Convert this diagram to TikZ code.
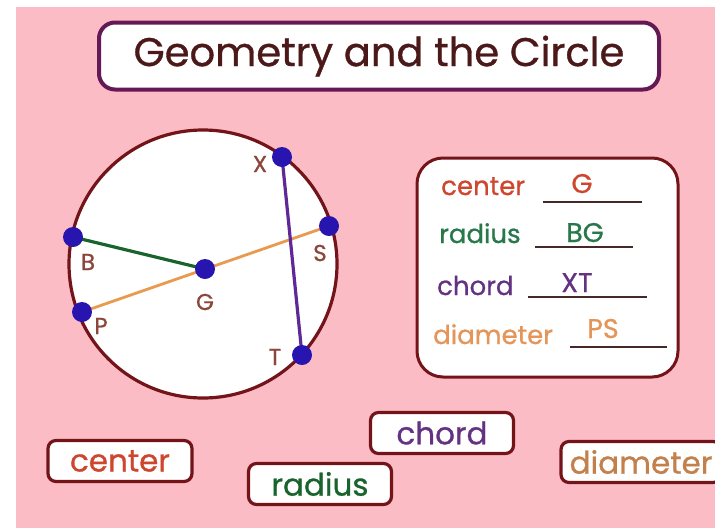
\documentclass[tikz,border=0pt]{standalone}
\usepackage{fontspec}
\setmainfont{Poppins}[FakeBold=0.8]
\definecolor{bgpink}{RGB}{252,188,198}
\definecolor{maroon}{RGB}{115,20,25}
\definecolor{titleline}{RGB}{100,25,85}
\definecolor{titletext}{RGB}{75,25,25}
\definecolor{dotblue}{RGB}{40,20,175}
\definecolor{radgreen}{RGB}{25,100,45}
\definecolor{diaorange}{RGB}{232,155,80}
\definecolor{chordpurple}{RGB}{95,40,150}
\definecolor{ptlabel}{RGB}{140,70,60}
\definecolor{centcol}{RGB}{205,70,45}
\definecolor{radcol}{RGB}{40,120,75}
\definecolor{chordcol}{RGB}{100,50,130}
\definecolor{diacol}{RGB}{228,150,90}
\definecolor{ulcol}{RGB}{70,40,40}
\begin{document}
\begin{tikzpicture}[x=1pt,y=-1pt,
  dot/.style={circle,fill=dotblue,inner sep=0pt,minimum size=20pt},
  ptlab/.style={text=ptlabel,font=\fontsize{23}{23}\selectfont,inner sep=0pt},
  rowlab/.style={anchor=base west,inner sep=0pt,font=\fontsize{26}{26}\selectfont},
  ans/.style={anchor=base,inner sep=0pt,font=\fontsize{27}{27}\selectfont},
  uline/.style={draw=ulcol,line width=1.8pt},
  wordbox/.style={draw=maroon,line width=3.2pt,fill=white,rounded corners=8pt,
    inner sep=0pt,minimum height=41pt,font=\fontsize{31}{31}\selectfont}]
\useasboundingbox (0,0) rectangle (715,528);
\fill[white] (0,0) rectangle (715,528);
\fill[bgpink] (16,7) rectangle (715,528);
% title
\node[draw=titleline,line width=4pt,fill=white,rounded corners=16pt,
  minimum width=560pt,minimum height=67pt,inner sep=0pt,text=titletext,
  font=\fontsize{40}{40}\selectfont] (title) at (379,56) {Geometry and the Circle};
% circle
\draw[maroon,line width=3.2pt,fill=white] (203,264) circle[radius=134];
\coordinate (B) at (73,237);
\coordinate (G) at (205,269);
\coordinate (P) at (82,312);
\coordinate (S) at (329,226);
\coordinate (X) at (282,157);
\coordinate (T) at (302,355);
\draw[diaorange,line width=2.8pt] (P) -- (S);
\draw[radgreen,line width=3.2pt] (B) -- (G);
\draw[chordpurple,line width=3.2pt] (X) -- (T);
\foreach \p in {B,G,P,S,X,T} \node[dot] (d\p) at (\p) {};
\node[ptlab] (lX) at (260,164) {X};
\node[ptlab] (lB) at (88,262) {B};
\node[ptlab] (lG) at (205,302) {G};
\node[ptlab] (lP) at (101,326) {P};
\node[ptlab] (lS) at (320,253) {S};
\node[ptlab] (lT) at (275,357) {T};
% info box
\draw[maroon,line width=3pt,fill=white,rounded corners=26pt] (417,158) rectangle (678,377);
\node[rowlab,text=centcol] (rc) at (441,195) {center};
\draw[uline] (543,202) -- (642,202);
\node[ans,text=centcol] (ac) at (582,193) {G};
\node[rowlab,text=radcol] (rr) at (439,243) {radius};
\draw[uline] (535,247) -- (633,247);
\node[ans,text=radcol] (ar) at (585,242) {BG};
\node[rowlab,text=chordcol] (rh) at (437,295) {chord};
\draw[uline] (528,297) -- (647,297);
\node[ans,text=chordcol] (ah) at (577,292) {XT};
\node[rowlab,text=diacol] (rd) at (433,344) {diameter};
\draw[uline] (570,347) -- (667,347);
\node[ans,text=diacol] (ad) at (603,338) {PS};
% word boxes
\node[wordbox,minimum width=144pt,text=centcol] (bc) at (120,461) {center};
\node[wordbox,minimum width=143pt,text=radgreen] (br) at (320,484) {radius};
\node[wordbox,minimum width=143pt,text=chordcol] (bh) at (442,433) {chord};
\node[wordbox,minimum width=160pt,text=diacol!85!black] (bd) at (641,462) {diameter};
\end{tikzpicture}
\end{document}
